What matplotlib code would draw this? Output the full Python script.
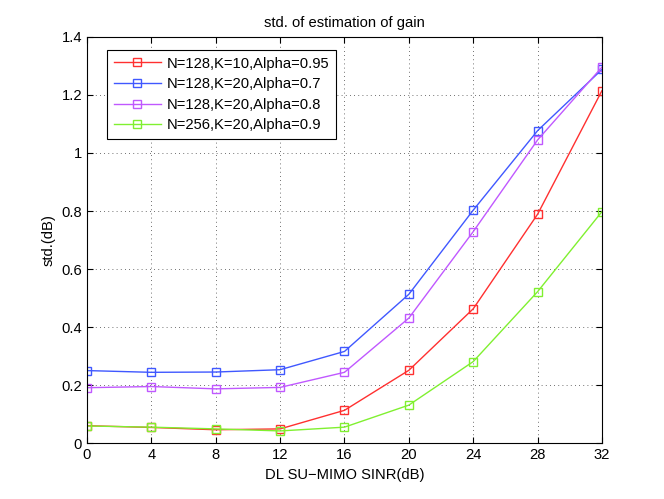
import numpy as np
import matplotlib
matplotlib.use('Agg')
import matplotlib.pyplot as plt

plt.rcParams['font.family'] = ['Liberation Sans', 'DejaVu Sans']

sinr = [0, 4, 8, 12, 16, 20, 24, 28, 32]

std_n128_k10_a095 = [0.060, 0.054, 0.046, 0.049, 0.113, 0.251, 0.463, 0.789, 1.215]
std_n128_k20_a07  = [0.250, 0.244, 0.245, 0.253, 0.316, 0.513, 0.803, 1.077, 1.288]
std_n128_k20_a08  = [0.191, 0.195, 0.187, 0.192, 0.244, 0.431, 0.729, 1.045, 1.296]
std_n256_k20_a09  = [0.059, 0.055, 0.049, 0.042, 0.055, 0.131, 0.281, 0.522, 0.798]

labels = ['N=128,K=10,Alpha=0.95',
          'N=128,K=20,Alpha=0.7',
          'N=128,K=20,Alpha=0.8',
          'N=256,K=20,Alpha=0.9']
colors = ['#ff3030', '#4058ff', '#c058ff', '#80f030']
series = [std_n128_k10_a095, std_n128_k20_a07, std_n128_k20_a08, std_n256_k20_a09]

fs = 10.6

fig = plt.figure(figsize=(6.64, 4.99), dpi=100)
ax = fig.add_axes([0.131, 0.112, 0.7756, 0.814])

for y, c, lab in zip(series, colors, labels):
    ax.plot(sinr, y, color=c, marker='s', markerfacecolor='none',
            markeredgecolor=c, markersize=6.2, linewidth=1.0, label=lab)

ax.set_xlim(0, 32)
ax.set_ylim(0, 1.4)
ax.set_xticks(sinr)
ax.set_yticks(np.arange(0, 1.41, 0.2))
ax.set_yticklabels(['0', '0.2', '0.4', '0.6', '0.8', '1', '1.2', '1.4'])
ax.tick_params(direction='in', top=True, right=True, labelsize=fs, length=4)
ax.grid(True, linestyle=(0, (1, 4)), color='#404040', linewidth=0.6)
for s in ax.spines.values():
    s.set_linewidth(0.8)

ax.set_xlabel('DL SU\u2212MIMO SINR(dB)', fontsize=fs, labelpad=4)
ax.set_ylabel('std.(dB)', fontsize=fs)
ax.set_title('std. of estimation of gain', fontsize=fs, pad=7)

leg = ax.legend(loc='upper left', bbox_to_anchor=(0.039, 0.968), fontsize=fs,
                fancybox=False, framealpha=1, edgecolor='black',
                handlelength=3.2, borderpad=0.45, labelspacing=0.45,
                handletextpad=0.4, borderaxespad=0)
leg.get_frame().set_linewidth(0.8)

fig.savefig('out.png', dpi=100)
